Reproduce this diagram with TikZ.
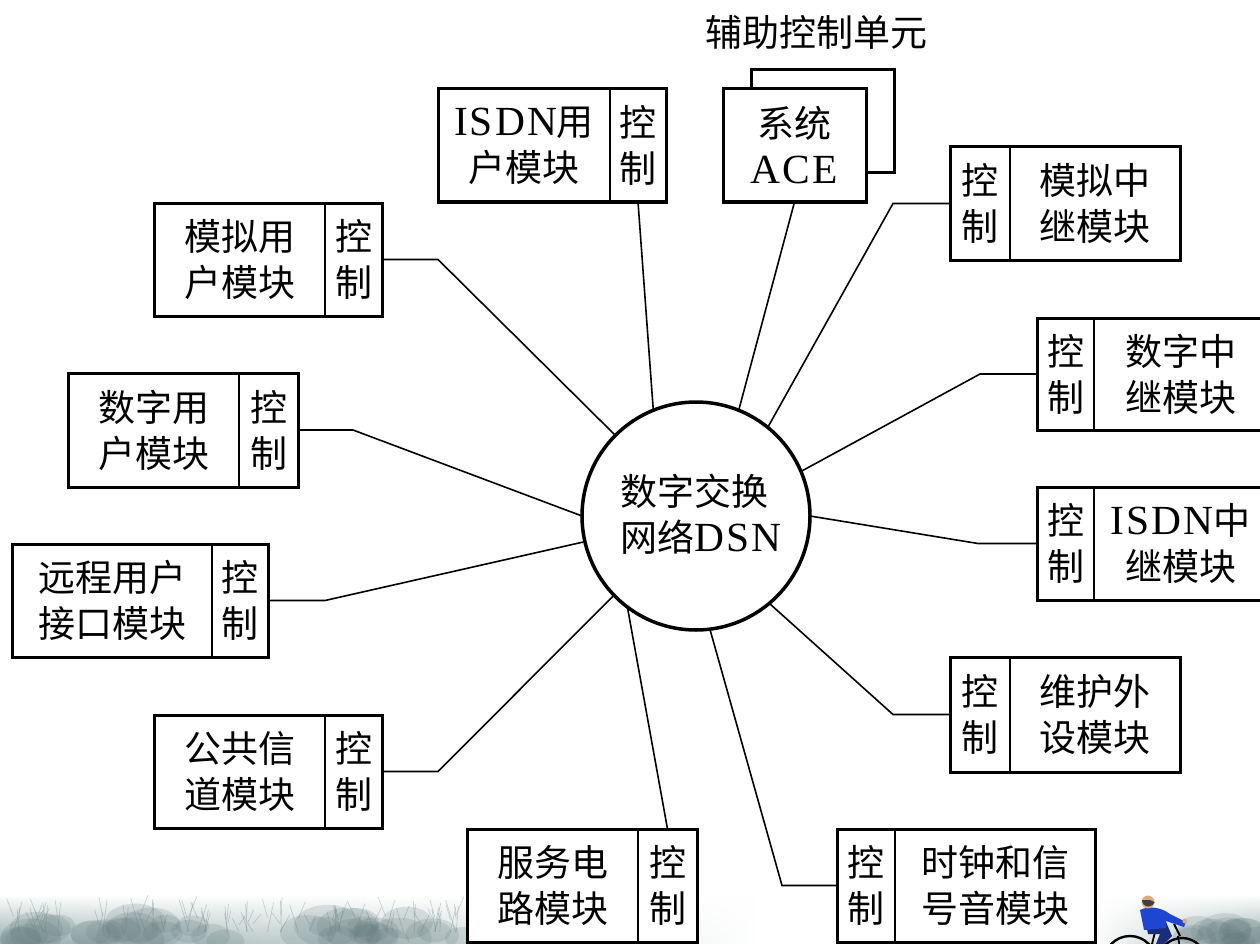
\documentclass[tikz,border=0pt]{standalone}
\usepackage{fontspec}
\setmainfont{Noto Sans CJK SC}
\newfontfamily\latinfont{Liberation Serif}[LetterSpace=5,Scale=1.12]
\usetikzlibrary{fadings,calc}
\newcommand{\lat}[1]{{\latinfont #1}}
\definecolor{treecol}{RGB}{150,172,172}
\definecolor{treedark}{RGB}{95,120,122}
\definecolor{shirt}{RGB}{30,70,210}
\definecolor{jeans}{RGB}{25,45,120}
\definecolor{skin}{RGB}{225,170,130}

\begin{document}
\begin{tikzpicture}[x=1pt,y=-1pt,
  every node/.style={inner sep=0pt, outer sep=0pt},
  frame/.style={draw=black, line width=3pt, fill=white, rectangle},
  part/.style={draw=black, line width=1.5pt, rectangle},
  txt/.style={font=\fontsize{37}{46}\selectfont, align=center},
  link/.style={line width=1.6pt},
  crown/.style={fill=treedark, opacity=0.18},
]
\path[use as bounding box, clip] (0,0) rectangle (1260,944);
\fill[white] (0,0) rectangle (1260,944);

% landscape strip along the bottom edge
\shade[left color=treecol, middle color=treecol, right color=white, path fading=north] (0,895) rectangle (760,944);
\shade[left color=white, right color=treecol, path fading=north] (1090,895) rectangle (1260,944);
\pgfmathsetseed{11}
\foreach \i in {1,...,45}{
  \pgfmathsetmacro{\xx}{20+rnd*560}
  \pgfmathsetmacro{\yy}{922+rnd*20}
  \pgfmathsetmacro{\rr}{8+rnd*14}
  \fill[crown] (\xx,\yy) ellipse ({\rr*1.6} and \rr);
}
\foreach \i in {1,...,60}{
  \pgfmathsetmacro{\xx}{10+rnd*580}
  \pgfmathsetmacro{\hh}{14+rnd*22}
  \pgfmathsetmacro{\ww}{rand*10}
  \draw[treedark, opacity=0.3, line width=0.7pt] (\xx,932) -- ++(\ww,-\hh) ++(-\ww,\hh*0.5) -- ++(-\ww*0.8,-\hh*0.6);
}
\foreach \i in {1,...,14}{
  \pgfmathsetmacro{\xx}{1190+rnd*70}
  \pgfmathsetmacro{\yy}{928+rnd*16}
  \pgfmathsetmacro{\rr}{7+rnd*10}
  \fill[crown] (\xx,\yy) ellipse ({\rr*1.6} and \rr);
}

% switching network
\node[circle, draw=black, line width=3.5pt, fill=white, minimum size=228] (dsn) at (696,516) {};
\node[txt, align=left] (dsntext) at (701,514) {数字交换\\网络\lat{DSN}};

% auxiliary control unit
\node[txt] (acetitle) at (816,32) {辅助控制单元};
\node[frame, minimum width=143, minimum height=103, anchor=north west] (aceback) at (751,70) {};
\node[frame, txt, minimum width=143, minimum height=113, anchor=north west] (ace) at (723,89) {系统\\\lat{ACE}};

% modules on the left: name part, then control part on the right
\node[frame, minimum width=228, minimum height=113, anchor=north west] (isdnu) at (438,89) {};
\node[part, txt, minimum width=56, minimum height=113, anchor=north east] (isdnuc) at (isdnu.north east) {控\\制};
\node[txt, minimum width=172, minimum height=113, anchor=north west] (isdnun) at (isdnu.north west) {\lat{ISDN}用\\户模块};

\node[frame, minimum width=228, minimum height=113, anchor=north west] (mnyh) at (154,203) {};
\node[part, txt, minimum width=57, minimum height=113, anchor=north east] (mnyhc) at (mnyh.north east) {控\\制};
\node[txt, minimum width=171, minimum height=113, anchor=north west] (mnyhn) at (mnyh.north west) {模拟用\\户模块};

\node[frame, minimum width=230, minimum height=114, anchor=north west] (szyh) at (68,373) {};
\node[part, txt, minimum width=59, minimum height=114, anchor=north east] (szyhc) at (szyh.north east) {控\\制};
\node[txt, minimum width=171, minimum height=114, anchor=north west] (szyhn) at (szyh.north west) {数字用\\户模块};

\node[frame, minimum width=256, minimum height=113, anchor=north west] (ycyh) at (12,544) {};
\node[part, txt, minimum width=56, minimum height=113, anchor=north east] (ycyhc) at (ycyh.north east) {控\\制};
\node[txt, minimum width=200, minimum height=113, anchor=north west] (ycyhn) at (ycyh.north west) {远程用户\\接口模块};

\node[frame, minimum width=228, minimum height=113, anchor=north west] (ggxd) at (154,715) {};
\node[part, txt, minimum width=57, minimum height=113, anchor=north east] (ggxdc) at (ggxd.north east) {控\\制};
\node[txt, minimum width=171, minimum height=113, anchor=north west] (ggxdn) at (ggxd.north west) {公共信\\道模块};

\node[frame, minimum width=230, minimum height=113, anchor=north west] (fwdl) at (467,829) {};
\node[part, txt, minimum width=59, minimum height=113, anchor=north east] (fwdlc) at (fwdl.north east) {控\\制};
\node[txt, minimum width=171, minimum height=113, anchor=north west] (fwdln) at (fwdl.north west) {服务电\\路模块};

% modules on the right: control part on the left, then name part
\node[frame, minimum width=230, minimum height=113, anchor=north west] (mnzj) at (950,147) {};
\node[part, txt, minimum width=60, minimum height=113, anchor=north west] (mnzjc) at (mnzj.north west) {控\\制};
\node[txt, minimum width=170, minimum height=113, anchor=north east] (mnzjn) at (mnzj.north east) {模拟中\\继模块};

\node[frame, minimum width=230, minimum height=112, anchor=north west] (szzj) at (1037,318) {};
\node[part, txt, minimum width=57, minimum height=112, anchor=north west] (szzjc) at (szzj.north west) {控\\制};
\node[txt, minimum width=173, minimum height=112, anchor=north east] (szzjn) at (szzj.north east) {数字中\\继模块};

\node[frame, minimum width=230, minimum height=113, anchor=north west] (isdnz) at (1037,487) {};
\node[part, txt, minimum width=57, minimum height=113, anchor=north west] (isdnzc) at (isdnz.north west) {控\\制};
\node[txt, minimum width=173, minimum height=113, anchor=north east] (isdnzn) at (isdnz.north east) {\lat{ISDN}中\\继模块};

\node[frame, minimum width=230, minimum height=115, anchor=north west] (whws) at (950,657) {};
\node[part, txt, minimum width=60, minimum height=115, anchor=north west] (whwsc) at (whws.north west) {控\\制};
\node[txt, minimum width=170, minimum height=115, anchor=north east] (whwsn) at (whws.north east) {维护外\\设模块};

\node[frame, minimum width=258, minimum height=113, anchor=north west] (szhx) at (837,829) {};
\node[part, txt, minimum width=58, minimum height=113, anchor=north west] (szhxc) at (szhx.north west) {控\\制};
\node[txt, minimum width=200, minimum height=113, anchor=north east] (szhxn) at (szhx.north east) {时钟和信\\号音模块};

% links from each module's control part to the network
\draw[link] (isdnuc.south) -- (dsn.112);
\draw[link] (ace.south) -- (dsn.68);
\draw[link] (mnyh.east) -- ++(56,0) -- (dsn.135);
\draw[link] (szyh.east) -- ++(55,0) -- (dsn.180);
\draw[link] (ycyh.east) -- ++(57,0) -- (dsn.193);
\draw[link] (ggxd.east) -- ++(56,0) -- (dsn.224.6);
\draw[link] (fwdlc.north) -- (dsn.233);
\draw[link] (mnzj.west) -- ++(-57,0) -- (dsn.51.6);
\draw[link] (szzj.west) -- ++(-57,0) -- (dsn.23.5);
\draw[link] (isdnz.west) -- ++(-59,0) -- (dsn.0);
\draw[link] (whws.west) -- ++(-57,0) -- (dsn.310);
\draw[link] (szhx.west) -- ++(-55,0) -- (dsn.277);

% cyclist riding to the right
\draw[black, line width=2.4pt] (1130,962) circle (26);
\draw[black, line width=2.4pt] (1182,962) circle (24);
\draw[black, line width=1.8pt] (1130,962) -- (1152,944) -- (1182,962);
\draw[black, line width=1.8pt] (1152,944) -- (1156,928) (1178,936) -- (1182,962);
\draw[black, line width=2pt] (1174,924) -- (1180,936);
\fill[jeans] (1146,924) -- (1166,922) -- (1172,936) -- (1164,944) -- (1156,944) -- (1160,934) -- (1148,934) -- cycle;
\fill[shirt] (1140,910) .. controls (1150,905) and (1162,908) .. (1170,914)
  -- (1186,922) -- (1184,927) -- (1166,921) -- (1166,928) -- (1144,930) -- cycle;
\fill[skin] (1185,921) circle (2.5);
\fill[skin] (1148,902) circle (6.5);
\fill[black!75] (1142,900) arc (180:20:6.5) -- (1150,900) -- cycle;
\end{tikzpicture}
\end{document}
